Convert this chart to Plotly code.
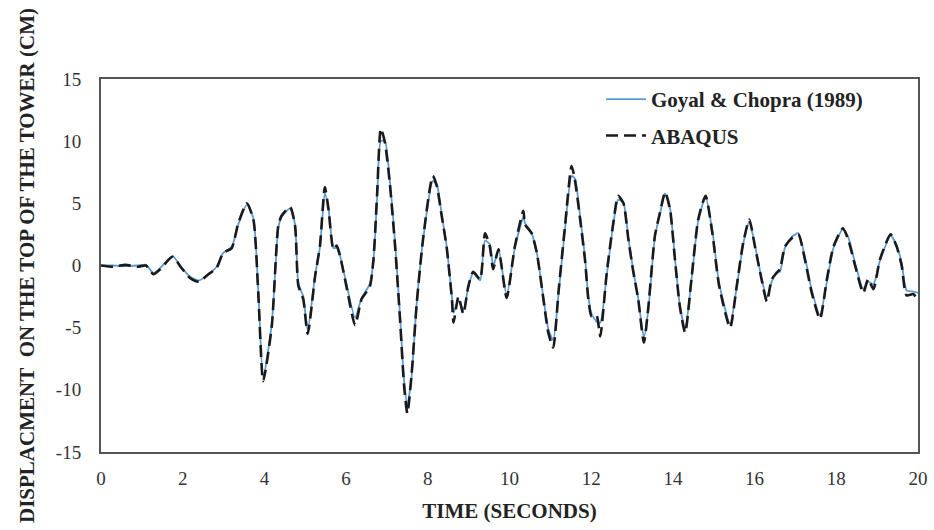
import plotly.graph_objects as go

time_s = [0.0, 0.3, 0.6, 0.9, 1.1, 1.28, 1.45, 1.75, 1.97, 2.18, 2.4, 2.63, 2.83, 2.99, 3.2, 3.36, 3.57, 3.73,
          3.85, 3.97, 4.18, 4.34, 4.42, 4.63, 4.75, 4.83, 4.95, 5.06, 5.24, 5.36, 5.48, 5.57, 5.69, 5.77, 5.85,
          6.01, 6.22, 6.38, 6.58, 6.67, 6.76, 6.85, 6.95, 7.07, 7.2, 7.32, 7.42, 7.5, 7.6, 7.73, 7.89, 8.12,
          8.22, 8.34, 8.46, 8.59, 8.63, 8.75, 8.87, 8.99, 9.11, 9.28, 9.4, 9.52, 9.6, 9.73, 9.93, 10.13, 10.34,
          10.38, 10.54, 10.67, 10.83, 10.95, 11.07, 11.2, 11.36, 11.52, 11.6, 11.73, 11.85, 11.93, 12.01, 12.13,
          12.22, 12.38, 12.54, 12.66, 12.79, 12.91, 13.03, 13.15, 13.29, 13.4, 13.56, 13.68, 13.81, 13.93, 14.05,
          14.17, 14.3, 14.46, 14.62, 14.8, 14.97, 15.13, 15.4, 15.56, 15.72, 15.87, 16.01, 16.17, 16.3, 16.42,
          16.54, 16.62, 16.74, 16.91, 17.07, 17.23, 17.4, 17.6, 17.77, 17.93, 18.16, 18.29, 18.46, 18.66, 18.78,
          18.91, 19.07, 19.33, 19.48, 19.6, 19.72, 19.89, 20.0]

abaqus = [0, -0.1, 0.05, -0.1, 0.0, -0.7, -0.3, 0.7, -0.2, -1.0, -1.3, -0.7, -0.2, 1.0, 1.4, 3.4, 5.0, 3.7,
          -2.2, -9.3, -4.9, 3.2, 4.0, 4.7, 3.2, -1.6, -2.7, -5.5, -0.9, 1.6, 6.3, 4.5, 1.3, 1.6, 0.8,
          -1.7, -4.8, -2.7, -1.7, 0.5, 5.8, 11.0, 9.9, 6.6, 1.5, -4.3, -9.7, -11.9, -8.9, -3.0, 2.3, 7.2,
          6.4, 4.0, 1.5, -2.7, -4.6, -2.5, -3.9, -1.7, -0.5, -1.1, 2.6, 1.5, -0.3, 1.3, -2.6, 1.5, 4.4,
          3.3, 2.6, 1.0, -2.7, -5.4, -6.6, -2.1, 3.2, 8.0, 6.9, 3.7, 0.4, -2.7, -4.1, -4.0,
          -5.7, -0.6, 3.4, 5.6, 5.0, 2.1, -0.5, -2.7, -6.2, -3.3, 2.4, 4.2, 5.9, 4.5, 0.5,
          -3.3, -5.4, -0.9, 3.7, 5.6, 2.5, -1.6, -5.0, -1.7, 1.8, 3.7, 1.5, -1.1, -2.9, -1.1,
          -0.6, -0.3, 1.5, 2.2, 2.5, 0.5, -2.2, -4.3, -1.1, 1.5, 3.0, 2.1, 0.0, -2.2, -1.1,
          -1.9, 0.5, 2.5, 1.5, 0.0, -2.4, -2.3, -2.9]

goyal = [0, 0, -0.05, 0, 0.05, -0.6, -0.2, 0.75, -0.15, -0.9, -1.2, -0.7, -0.1, 1.0, 1.5, 3.3, 4.9, 3.8,
         -2.0, -9.0, -4.7, 3.0, 3.9, 4.6, 3.3, -1.4, -2.5, -5.2, -0.8, 1.5, 5.8, 4.6, 1.4, 1.4, 0.8,
         -1.5, -4.2, -2.6, -1.5, 0.4, 5.5, 10.0, 10.0, 6.8, 1.8, -4.0, -9.3, -11.2, -9.0, -3.0, 2.2, 6.8,
         6.5, 4.1, 1.6, -2.5, -3.8, -2.8, -3.6, -1.8, -0.6, -1.2, 2.0, 1.7, -0.1, 1.3, -2.4, 1.4, 3.9,
         3.4, 2.6, 1.0, -2.6, -5.1, -6.0, -2.3, 3.0, 7.2, 7.0, 3.9, 0.6, -2.5, -3.9, -4.5,
         -4.6, -0.8, 3.3, 5.3, 5.0, 2.2, -0.4, -2.6, -5.8, -3.5, 2.3, 4.1, 5.8, 4.6, 0.6,
         -3.2, -5.1, -1.0, 3.6, 5.5, 2.7, -1.4, -4.7, -1.8, 1.7, 3.5, 1.6, -1.0, -2.6, -1.3,
         -0.5, -0.5, 1.4, 2.3, 2.6, 0.7, -2.0, -4.0, -1.3, 1.4, 2.9, 2.3, 0.2, -1.9, -1.3,
         -1.5, 0.4, 2.4, 1.6, 0.2, -2.0, -2.1, -2.2]

x_ticks = [0, 2, 4, 6, 8, 10, 12, 14, 16, 18, 20]
y_ticks = [-15, -10, -5, 0, 5, 10, 15]

serif = "Liberation Serif, Times New Roman, serif"

fig = go.Figure()
fig.add_trace(go.Scatter(
    x=time_s, y=goyal, mode="lines", name="Goyal & Chopra (1989)", legendgroup="g1",
    line=dict(color="#5B9BD5", width=1.8, shape="spline", smoothing=0.6),
))
fig.add_trace(go.Scatter(
    x=time_s, y=abaqus, mode="lines", name="ABAQUS", legendgroup="g2",
    line=dict(color="#1a1a1a", width=2.6, dash="12px,6px", shape="spline", smoothing=0.6),
))

fig.update_layout(
    width=934, height=530,
    margin=dict(l=101, r=16, t=79, b=78, autoexpand=False),
    paper_bgcolor="white", plot_bgcolor="white",
    font=dict(family=serif, color="#222222"),
    showlegend=True,
    legend=dict(
        x=0.612, y=1.0, xanchor="left", yanchor="top",
        bgcolor="rgba(0,0,0,0)",
        font=dict(family=serif, size=21, color="#222222", weight="bold"),
        tracegroupgap=6, itemwidth=40,
    ),
    xaxis=dict(
        range=[0, 20], tickvals=x_ticks, ticktext=[str(v) for v in x_ticks],
        showgrid=False, zeroline=False, showline=True, linecolor="#555555", linewidth=2,
        mirror=True, ticks="", ticklabelstandoff=8, automargin=False,
        tickfont=dict(family=serif, size=19, color="#333333"),
        title=dict(text="TIME (SECONDS)", standoff=16,
                   font=dict(family=serif, size=21, color="#222222", weight="bold")),
    ),
    yaxis=dict(
        range=[-15, 15], tickvals=y_ticks, ticktext=[str(v) for v in y_ticks],
        showgrid=False, zeroline=False, showline=True, linecolor="#555555", linewidth=2,
        mirror=True, ticks="", ticklabelstandoff=14, automargin=False,
        tickfont=dict(family=serif, size=19, color="#333333"),
        title=dict(text="DISPLACMENT\u00a0 ON THE TOP OF THE TOWER (CM)", standoff=16,
                   font=dict(family=serif, size=21, color="#222222", weight="bold")),
    ),
)

fig.write_html("out.html")
